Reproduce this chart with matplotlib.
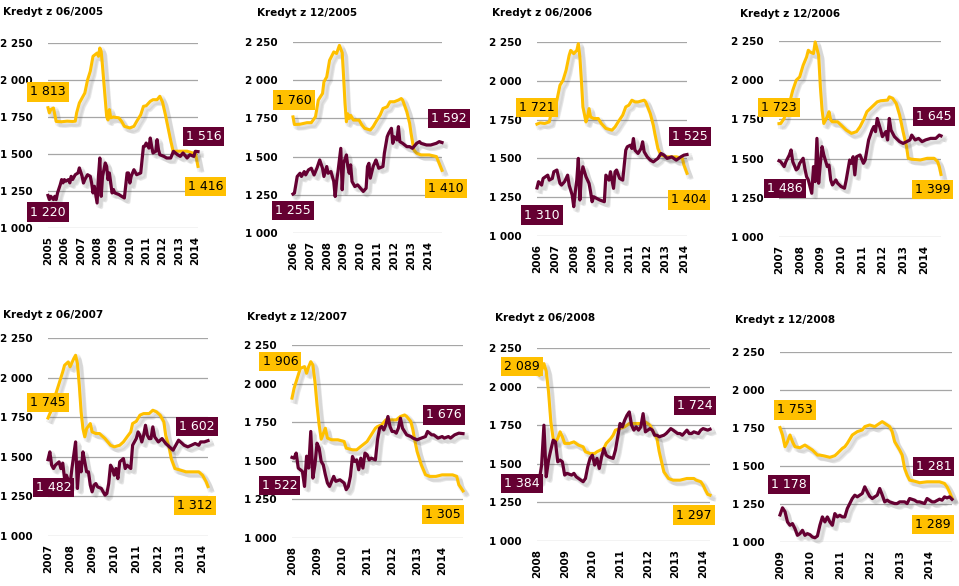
import matplotlib
matplotlib.use("Agg")
import matplotlib.pyplot as plt
import matplotlib.patheffects as pe
from matplotlib.ticker import FuncFormatter

GOLD = '#FFC000'
MAROON = '#650032'

# ---- data: monthly instalments (PLN), month index counted from the loan start ----
# Kredyt z 06/2005
p1_chf_m = [0, 1, 2, 4, 6, 10, 14, 18, 20, 21, 23, 27, 29, 31, 33, 36, 37, 38, 39, 40,
            42, 43, 44, 45, 46, 48, 52, 54, 56, 60, 63, 65, 68, 70, 72, 75, 77, 80, 82, 84,
            86, 88, 90, 92, 93, 96, 99, 102, 106, 108, 109, 110]
p1_chf_v = [1813, 1778, 1800, 1811, 1720, 1718, 1722, 1720, 1722, 1778, 1845, 1912, 2000, 2059, 2160, 2182, 2160, 2216, 2194, 2092,
            1867, 1755, 1730, 1800, 1745, 1750, 1744, 1720, 1687, 1676, 1687, 1720, 1765, 1822, 1826, 1856, 1867, 1867, 1890, 1850,
            1770, 1680, 1590, 1510, 1519, 1519, 1519, 1519, 1507, 1507, 1462, 1416]
p1_pln_m = [0, 1, 2, 4, 5, 6, 7, 9, 10, 11, 12, 13, 15, 16, 17, 18, 20, 22, 23, 25,
            26, 27, 29, 31, 32, 33, 34, 36, 37, 38, 39, 40, 42, 43, 44, 45, 47, 48, 49, 52,
            54, 56, 58, 59, 60, 61, 63, 65, 68, 70, 71, 72, 74, 75, 76, 77, 79, 80, 81, 82,
            85, 87, 90, 92, 95, 97, 99, 102, 104, 107, 108, 110]
p1_pln_v = [1220, 1192, 1214, 1192, 1214, 1192, 1237, 1293, 1327, 1305, 1327, 1316, 1327, 1305, 1349, 1327, 1360, 1372, 1406, 1350,
            1304, 1327, 1360, 1349, 1304, 1237, 1282, 1169, 1349, 1473, 1214, 1349, 1439, 1417, 1327, 1372, 1237, 1260, 1237, 1226,
            1214, 1203, 1372, 1372, 1304, 1349, 1394, 1360, 1372, 1552, 1552, 1574, 1540, 1608, 1552, 1507, 1518, 1597, 1530, 1495,
            1484, 1473, 1473, 1518, 1495, 1484, 1507, 1473, 1495, 1484, 1518, 1516]

# Kredyt z 12/2005
p2_chf_m = [0, 1, 5, 10, 13, 16, 18, 21, 22, 24, 26, 29, 31, 33, 35, 36, 37, 38, 39, 40,
            41, 43, 47, 49, 51, 55, 57, 59, 62, 64, 67, 69, 72, 75, 77, 78, 81, 83, 84, 86,
            88, 91, 97, 102, 104, 106]
p2_chf_v = [1760, 1710, 1712, 1722, 1722, 1761, 1870, 1913, 1989, 2022, 2130, 2185, 2175, 2228, 2180, 2022, 1848, 1728, 1780, 1750,
            1770, 1739, 1739, 1707, 1685, 1674, 1696, 1728, 1772, 1815, 1826, 1859, 1859, 1870, 1880, 1870, 1793, 1717, 1652, 1543,
            1522, 1511, 1511, 1500, 1456, 1410]
p2_pln_m = [0, 1, 2, 3, 5, 6, 8, 9, 11, 13, 15, 17, 19, 21, 22, 24, 25, 27, 29, 30,
            31, 32, 34, 35, 36, 38, 39, 40, 41, 42, 44, 46, 48, 50, 52, 53, 54, 55, 57, 58,
            59, 61, 64, 65, 67, 68, 70, 71, 72, 74, 75, 76, 78, 81, 83, 85, 88, 90, 91, 95,
            98, 102, 104, 106]
p2_pln_v = [1255, 1261, 1315, 1370, 1391, 1370, 1402, 1380, 1413, 1424, 1380, 1424, 1478, 1424, 1370, 1435, 1391, 1402, 1337, 1239,
            1337, 1402, 1554, 1283, 1456, 1511, 1435, 1391, 1446, 1337, 1304, 1315, 1293, 1272, 1293, 1435, 1456, 1359, 1435, 1456,
            1478, 1424, 1435, 1522, 1630, 1652, 1685, 1587, 1630, 1609, 1696, 1598, 1587, 1565, 1565, 1554, 1587, 1598, 1587, 1576,
            1576, 1587, 1598, 1592]

# Kredyt z 06/2006
p3_chf_m = [0, 2, 5, 8, 9, 11, 13, 15, 17, 19, 21, 22, 24, 26, 27, 28, 29, 30, 32, 33,
            34, 35, 37, 40, 42, 45, 49, 51, 53, 56, 58, 60, 62, 64, 66, 70, 71, 74, 76, 77,
            79, 81, 85, 91, 95, 96, 98]
p3_chf_v = [1721, 1729, 1725, 1735, 1778, 1789, 1875, 1971, 2003, 2068, 2164, 2196, 2175, 2196, 2239, 2153, 2003, 1832, 1735, 1767,
            1821, 1767, 1757, 1757, 1725, 1693, 1682, 1703, 1735, 1779, 1832, 1843, 1875, 1864, 1864, 1875, 1864, 1789, 1714, 1660,
            1564, 1521, 1510, 1510, 1500, 1457, 1404]
p3_pln_m = [0, 1, 3, 4, 7, 8, 10, 11, 13, 15, 16, 18, 20, 21, 23, 24, 25, 26, 27, 28,
            29, 30, 32, 34, 35, 36, 37, 39, 41, 44, 45, 47, 48, 50, 51, 52, 54, 56, 58, 59,
            61, 62, 63, 64, 66, 68, 69, 70, 72, 74, 76, 79, 81, 83, 85, 88, 91, 94, 96, 98]
p3_pln_v = [1310, 1350, 1328, 1371, 1392, 1360, 1371, 1414, 1425, 1339, 1328, 1350, 1392, 1328, 1264, 1189, 1285, 1360, 1500, 1232,
            1392, 1446, 1382, 1339, 1285, 1221, 1253, 1242, 1232, 1221, 1392, 1360, 1414, 1307, 1414, 1425, 1371, 1360, 1553, 1575,
            1585, 1564, 1628, 1553, 1532, 1564, 1607, 1543, 1510, 1489, 1478, 1500, 1532, 1521, 1500, 1510, 1489, 1510, 1521, 1525]

# Kredyt z 12/2006
p4_chf_m = [0, 1, 3, 4, 6, 8, 10, 12, 14, 16, 17, 18, 20, 21, 23, 24, 25, 26, 28, 29,
            30, 31, 34, 36, 39, 42, 45, 47, 49, 51, 53, 55, 57, 59, 63, 64, 66, 68, 70, 72,
            74, 75, 77, 82, 86, 90, 92, 93, 94]
p4_chf_v = [1723, 1724, 1756, 1809, 1851, 1936, 2000, 2021, 2095, 2148, 2191, 2180, 2170, 2244, 2159, 1958, 1809, 1724, 1767, 1799,
            1746, 1735, 1735, 1714, 1682, 1661, 1672, 1703, 1746, 1799, 1820, 1841, 1862, 1869, 1873, 1894, 1884, 1852, 1778, 1672,
            1576, 1502, 1496, 1491, 1502, 1502, 1481, 1449, 1399]
p4_pln_m = [0, 1, 3, 4, 6, 7, 8, 10, 11, 12, 14, 15, 16, 17, 19, 20, 21, 22, 23, 24,
            25, 26, 28, 29, 30, 31, 33, 34, 36, 38, 39, 41, 42, 43, 44, 45, 47, 49, 50, 52,
            54, 55, 56, 57, 59, 60, 62, 63, 64, 65, 67, 68, 70, 72, 74, 76, 77, 79, 81, 83,
            85, 88, 91, 93, 94]
p4_pln_v = [1486, 1480, 1449, 1480, 1523, 1555, 1480, 1428, 1438, 1470, 1502, 1438, 1385, 1364, 1279, 1449, 1353, 1629, 1343, 1470,
            1576, 1523, 1449, 1459, 1364, 1332, 1364, 1343, 1322, 1311, 1364, 1491, 1470, 1512, 1396, 1512, 1523, 1470, 1491, 1619,
            1682, 1704, 1672, 1756, 1682, 1640, 1672, 1619, 1756, 1682, 1640, 1629, 1608, 1597, 1608, 1619, 1650, 1619, 1629, 1608,
            1619, 1629, 1629, 1650, 1645]

# Kredyt z 06/2007
p5_chf_m = [0, 1, 2, 4, 6, 8, 9, 11, 12, 14, 15, 16, 17, 18, 19, 20, 21, 23, 24, 26,
            28, 31, 34, 36, 39, 41, 43, 45, 46, 48, 50, 52, 55, 57, 59, 61, 63, 64, 66, 67,
            69, 72, 75, 79, 82, 84, 86, 87]
p5_chf_v = [1745, 1773, 1794, 1889, 1962, 2036, 2078, 2099, 2068, 2120, 2141, 2089, 1952, 1784, 1678, 1626, 1678, 1710, 1657, 1647,
            1647, 1615, 1573, 1563, 1573, 1594, 1626, 1657, 1710, 1724, 1763, 1773, 1773, 1794, 1784, 1763, 1720, 1636, 1552, 1489,
            1426, 1416, 1405, 1405, 1405, 1384, 1342, 1312]
p5_pln_m = [0, 1, 2, 3, 4, 6, 7, 8, 9, 10, 11, 12, 13, 14, 15, 16, 17, 18, 19, 20,
            21, 22, 23, 24, 25, 26, 27, 29, 31, 32, 33, 34, 35, 36, 37, 38, 39, 41, 42, 43,
            45, 46, 48, 49, 50, 51, 52, 53, 54, 55, 56, 57, 58, 60, 62, 64, 66, 68, 69, 71,
            73, 74, 76, 78, 80, 82, 83, 85, 87]
p5_pln_v = [1482, 1531, 1447, 1426, 1447, 1468, 1426, 1460, 1363, 1384, 1353, 1321, 1426, 1510, 1594, 1300, 1468, 1405, 1531, 1468,
            1405, 1405, 1321, 1279, 1321, 1331, 1310, 1300, 1258, 1268, 1331, 1447, 1426, 1384, 1426, 1363, 1468, 1489, 1426, 1447,
            1426, 1573, 1615, 1657, 1636, 1594, 1636, 1699, 1636, 1615, 1615, 1689, 1626, 1594, 1615, 1584, 1563, 1542, 1563, 1605,
            1584, 1573, 1563, 1573, 1584, 1573, 1594, 1594, 1602]

# Kredyt z 12/2007
p6_chf_m = [0, 1, 2, 3, 4, 6, 7, 8, 9, 10, 11, 12, 13, 14, 16, 17, 19, 22, 25, 26,
            29, 31, 33, 36, 38, 40, 41, 43, 45, 50, 52, 54, 55, 57, 58, 59, 60, 62, 64, 66,
            69, 72, 77, 79, 80, 82]
p6_chf_v = [1906, 1970, 2013, 2056, 2099, 2110, 2067, 2110, 2142, 2121, 2013, 1862, 1733, 1640, 1711, 1647, 1636, 1636, 1625, 1582,
            1571, 1571, 1593, 1625, 1668, 1711, 1722, 1733, 1765, 1765, 1787, 1797, 1787, 1754, 1700, 1625, 1560, 1474, 1410, 1399,
            1399, 1409, 1409, 1399, 1345, 1305]
p6_pln_m = list(range(0, 19)) + [20, 21, 23, 25, 26, 27, 28, 29, 30, 31, 32, 33, 34, 35, 36, 37, 38] \
    + list(range(40, 54)) + [55, 57, 58, 60, 62, 64, 65, 67, 68, 70, 72, 73, 75, 76, 78, 80, 82]
p6_pln_v = [1522, 1517, 1550, 1453, 1442, 1431, 1334, 1530, 1453, 1690, 1388, 1474, 1614, 1582, 1496, 1474, 1410, 1356, 1334,
            1399, 1367, 1377, 1356, 1313, 1334, 1399, 1528, 1496, 1506, 1442, 1517, 1453, 1550, 1539, 1506, 1517,
            1506, 1636, 1711, 1722, 1700, 1733, 1787, 1722, 1690, 1690, 1679, 1711, 1776, 1711,
            1668, 1657, 1647, 1636, 1647, 1657, 1690, 1668, 1668, 1647, 1657, 1647, 1657, 1647, 1668, 1679, 1676]

# Kredyt z 06/2008
p7_chf_m = list(range(0, 13)) + [14, 16, 18, 20, 21, 23, 25, 26, 29, 30,
                                 32, 33, 34, 36, 38, 40, 43, 46, 47, 49,
                                 50, 52, 53, 54, 55, 57, 59, 62, 65, 68, 69, 71, 72, 73, 74, 75]
p7_chf_v = [2089, 2073, 2105, 2149, 2100, 1966, 1772, 1664, 1642, 1664, 1707, 1675, 1632,
            1632, 1642, 1621, 1610, 1578, 1567, 1567, 1578, 1600, 1632,
            1664, 1685, 1718, 1728, 1739, 1761, 1761, 1761, 1771, 1750,
            1718, 1664, 1578, 1513, 1448, 1405, 1394, 1394, 1405, 1405, 1394, 1384, 1362, 1330, 1302, 1297]
p7_pln_m = list(range(0, 14)) + [15, 16, 17, 18] + list(range(20, 32)) + list(range(33, 48)) \
    + [49, 50, 51, 52, 53, 55, 56, 58, 59, 61, 62, 63, 65, 66, 67, 68, 70, 71, 72, 74, 75]
p7_pln_v = [1384, 1394, 1491, 1750, 1416, 1524, 1590, 1653, 1642, 1513, 1524, 1513, 1427, 1438,
            1427, 1438, 1416, 1405,
            1384, 1405, 1481, 1535, 1556, 1492, 1535, 1470, 1545, 1599, 1556, 1545,
            1535, 1588, 1675, 1761, 1739, 1782, 1814, 1836, 1750, 1718, 1739, 1718, 1739, 1825, 1707,
            1728, 1718, 1685, 1685, 1675, 1685, 1696, 1728, 1718, 1696, 1696, 1685, 1718, 1696, 1696, 1707, 1696, 1718, 1728,
            1718, 1724]

# Kredyt z 12/2008
p8_chf_m = [0, 1, 2, 3, 4, 5, 6, 8, 10, 11, 13, 15, 16, 18, 20, 22, 23, 25, 26, 27,
            29, 30, 31, 33, 34, 36, 38, 40, 41, 42, 44, 45, 46, 48, 49, 50, 51, 52, 54, 56,
            59, 62, 64, 66, 67, 68, 69]
p8_chf_v = [1753, 1704, 1627, 1660, 1704, 1660, 1627, 1620, 1638, 1627, 1605, 1572, 1572, 1565, 1557, 1568, 1583, 1616, 1627, 1649,
            1704, 1715, 1726, 1737, 1759, 1770, 1759, 1781, 1792, 1781, 1759, 1726, 1660, 1605, 1572, 1484, 1440, 1407, 1400, 1390,
            1396, 1396, 1396, 1385, 1363, 1330, 1289]
p8_pln_m = list(range(0, 45)) + [46, 47, 48, 50, 51, 52, 54, 55, 56, 58, 59, 60, 61, 62, 64, 65, 66, 67, 68, 69]
p8_pln_v = [1178, 1225, 1200, 1132, 1110, 1121, 1088, 1044, 1055, 1077,
            1044, 1055, 1048, 1033, 1028, 1039, 1110, 1165, 1132, 1165,
            1132, 1110, 1187, 1165, 1176, 1165, 1165, 1220, 1253, 1286,
            1308, 1297, 1308, 1319, 1363, 1330, 1300, 1286, 1297, 1308, 1352, 1310, 1264, 1275, 1264,
            1253, 1253, 1264, 1264, 1253, 1286, 1275, 1264, 1264, 1253, 1286, 1275, 1264, 1264, 1282, 1275, 1297, 1290, 1297, 1281]

titles = ['Kredyt z 06/2005', 'Kredyt z 12/2005', 'Kredyt z 06/2006', 'Kredyt z 12/2006',
          'Kredyt z 06/2007', 'Kredyt z 12/2007', 'Kredyt z 06/2008', 'Kredyt z 12/2008']
first_years = [2005, 2006, 2006, 2007, 2007, 2008, 2008, 2009]
n_months = [111, 107, 99, 95, 88, 83, 76, 70]
y_ticks = [1000, 1250, 1500, 1750, 2000, 2250]

chf = [(p1_chf_m, p1_chf_v), (p2_chf_m, p2_chf_v), (p3_chf_m, p3_chf_v), (p4_chf_m, p4_chf_v),
       (p5_chf_m, p5_chf_v), (p6_chf_m, p6_chf_v), (p7_chf_m, p7_chf_v), (p8_chf_m, p8_chf_v)]
pln = [(p1_pln_m, p1_pln_v), (p2_pln_m, p2_pln_v), (p3_pln_m, p3_pln_v), (p4_pln_m, p4_pln_v),
       (p5_pln_m, p5_pln_v), (p6_pln_m, p6_pln_v), (p7_pln_m, p7_pln_v), (p8_pln_m, p8_pln_v)]

# ---- layout (pixels in the 959x586 picture) ----
W, H = 959, 586
axes_px = [(48, 43, 198, 228), (293, 42, 442, 233), (537, 42, 687, 236), (779, 41, 941, 237),
           (48, 338, 208, 536), (292, 345, 463, 538), (537, 348, 710, 541), (780, 352, 952, 542)]
title_px = [(3, 12), (257, 13), (492, 13), (740, 14), (3, 315), (247, 317), (495, 318), (735, 320)]
# label anchors (month, value): chf start, pln start, pln end, chf end
label_pos = [
    [(0, 1919), (0, 1108), (114, 1620), (115.5, 1282)],
    [(0.5, 1870), (0, 1148), (111, 1750), (109, 1293)],
    [(0, 1828), (3, 1135), (99.7, 1643), (99.3, 1232)],
    [(0, 1826), (3.5, 1311), (90, 1767), (89, 1305)],
    [(0, 1842), (3, 1305), (81, 1693), (80, 1191)],
    [(-5.6, 2142), (-6, 1341), (72.7, 1797), (72.4, 1151)],
    [(-6.5, 2131), (-6.5, 1373), (68.5, 1879), (68, 1168)],
    [(6, 1869), (3.5, 1379), (61.6, 1495), (61.5, 1115)],
]


def fmt(v, pos=None):
    return f"{v:,.0f}".replace(",", " ")


fig = plt.figure(figsize=(W / 100, H / 100), dpi=100)
# soft drop shadow, built from a few faint offset copies
shadow = [pe.SimpleLineShadow(offset=(o, -o), shadow_color='#606060', alpha=0.09, linewidth=lw)
          for o, lw in [(1.5, 4.5), (2.5, 3.5), (3.2, 2.5)]] + [pe.Normal()]

for i in range(8):
    l, t, r, b = axes_px[i]
    ax = fig.add_axes([l / W, 1 - b / H, (r - l) / W, (b - t) / H])
    cm, cv = chf[i]
    pm, pv = pln[i]
    ax.plot(cm, cv, color=GOLD, lw=2.2, clip_on=False, path_effects=shadow, zorder=3)
    ax.plot(pm, pv, color=MAROON, lw=2.3, clip_on=False, path_effects=shadow, zorder=4)

    ax.set_xlim(0, n_months[i] - 1)
    ax.set_ylim(1000, 2250)
    ax.set_yticks(y_ticks)
    ax.yaxis.set_major_formatter(FuncFormatter(fmt))
    ticks = list(range(0, n_months[i], 12))
    ax.set_xticks(ticks)
    ax.set_xticklabels([str(first_years[i] + k) for k in range(len(ticks))], rotation=90)
    ax.tick_params(length=0, labelsize=7.5, colors='black')
    ax.tick_params(axis='y', pad=11)
    ax.tick_params(axis='x', pad=6)
    for lab in ax.get_xticklabels() + ax.get_yticklabels():
        lab.set_fontweight('bold')
    ax.grid(axis='y', color='#A6A6A6', lw=0.9)
    ax.set_axisbelow(True)
    for s in ax.spines.values():
        s.set_visible(False)

    vals = [cv[0], pv[0], pv[-1], cv[-1]]
    cols = [GOLD, MAROON, MAROON, GOLD]
    txt = ['black', 'white', 'white', 'black']
    for (mx, my), v, c, tc in zip(label_pos[i], vals, cols, txt):
        ax.text(mx, my, fmt(v), ha='center', va='center', fontsize=9, color=tc, zorder=6,
                clip_on=False, bbox=dict(boxstyle='square,pad=0.25', fc=c, ec='none'))

    tx, ty = title_px[i]
    fig.text(tx / W, 1 - ty / H, titles[i], fontsize=7.5, fontweight='bold', ha='left', va='center')

fig.savefig('out.png', dpi=100)
